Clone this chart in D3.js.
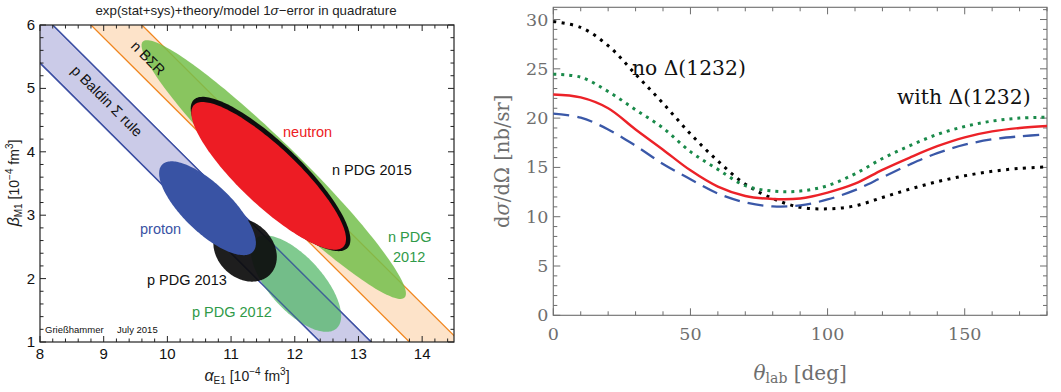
<!DOCTYPE html>
<html><head><meta charset="utf-8">
<script src="https://cdn.jsdelivr.net/npm/d3@7"></script>
<style>body{margin:0;background:#fff} svg{display:block}</style>
</head><body>
<svg id="c" width="1061" height="392"></svg>
<script>
// ---------------- RIGHT PANEL DATA ----------------
const thetaDeg    = [0,10,20,30,40,50,60,70,80,90,100,110,120,130,140,150,160,170,180];
const redSolid    = [22.4,22.1,21.0,18.85,16.8,14.7,13.05,12.1,11.8,11.85,12.45,13.35,14.75,16.0,17.15,18.05,18.65,19.0,19.2];
const greenDotted = [24.45,24.15,22.7,20.85,19.0,16.6,14.8,13.15,12.6,12.6,13.15,14.35,15.9,17.2,18.35,19.15,19.7,20.0,20.1];
const blueDashed  = [20.45,20.05,18.85,17.2,15.35,13.8,12.35,11.45,11.05,11.15,11.75,12.7,14.0,15.3,16.45,17.3,17.85,18.15,18.35];
const blackDotted = [29.8,29.2,27.35,24.45,21.5,18.4,15.65,13.3,11.85,10.95,10.8,11.1,11.95,12.8,13.55,14.15,14.6,14.9,15.05];
const xTicksRight = [0,50,100,150];
const yTicksRight = [0,5,10,15,20,25,30];

// ---------------- LEFT PANEL DATA ----------------
const alphaTicks = [8,9,10,11,12,13,14];
const betaTicks  = [1,2,3,4,5,6];
// sum rule bands: alpha+beta = centre +- half width
const bandNames     = ["p Baldin Σ rule","n BΣR"];
const bandSum       = [13.8, 15.2];
const bandHalfWidth = [0.4, 0.4];
// error ellipses (alpha, beta centre; semi-axes; orientation in degrees)
const ellipseNames = ["n PDG 2012","p PDG 2012","n PDG 2015","neutron","p PDG 2013","proton"];
const ellipseAlpha = [11.67, 12.02, 11.62, 11.59, 11.22, 10.63];
const ellipseBeta  = [3.72, 1.92, 3.65, 3.62, 2.45, 3.11];
const ellipseMajor = [2.88, 0.95, 1.68, 1.62, 0.55, 0.99];
const ellipseMinor = [0.42, 0.42, 0.48, 0.455, 0.44, 0.38];
const ellipseAngle = [-44.5, -48, -44, -43.6, -45, -44];

// ---------------- STYLES ----------------
const svg = d3.select("#c");
const SANS = "'Liberation Sans', Arial, sans-serif";
const SERIF = "'DejaVu Serif', serif";

// ================= LEFT PANEL =================
const xL = d3.scaleLinear().domain([8,14.5]).range([40,454]);
const yL = d3.scaleLinear().domain([1,6]).range([342,25]);
const L = svg.append("g");
L.append("clipPath").attr("id","clipL").append("rect")
  .attr("x",xL(8)).attr("y",yL(6)).attr("width",xL(14.5)-xL(8)).attr("height",yL(1)-yL(6));
const plotL = L.append("g").attr("clip-path","url(#clipL)");

const bandFill = ["#cbcbe8","#fde3c9"];
const bandLine = ["#3c4fa3","#f0861f"];
bandSum.forEach((s,i)=>{
  const s1 = s - bandHalfWidth[i], s2 = s + bandHalfWidth[i];
  const pts = [[6,s1-6],[16,s1-16],[16,s2-16],[6,s2-6]].map(p=>[xL(p[0]),yL(p[1])]);
  plotL.append("path").attr("d", d3.line()(pts)+"Z").attr("fill",bandFill[i]);
});
function bandLines(i, op){
  const s = bandSum[i];
  [s-bandHalfWidth[i], s+bandHalfWidth[i]].forEach(S=>{
    plotL.append("line").attr("x1",xL(6)).attr("y1",yL(S-6)).attr("x2",xL(16)).attr("y2",yL(S-16))
      .attr("stroke",bandLine[i]).attr("stroke-width",1.3).attr("stroke-opacity",op);
  });
}
bandLines(0,1); bandLines(1,1);

function ellipsePath(i){
  const phi = ellipseAngle[i]*Math.PI/180;
  const pts = d3.range(0, 2*Math.PI, Math.PI/90).map(t=>{
    const a = ellipseAlpha[i] + ellipseMajor[i]*Math.cos(t)*Math.cos(phi) - ellipseMinor[i]*Math.sin(t)*Math.sin(phi);
    const b = ellipseBeta[i]  + ellipseMajor[i]*Math.cos(t)*Math.sin(phi) + ellipseMinor[i]*Math.sin(t)*Math.cos(phi);
    return [xL(a), yL(b)];
  });
  return d3.line().curve(d3.curveLinearClosed)(pts);
}
const ellFill    = ["#74bf4c","#55b86a","#0d0d0d","#ed1c24","#0d0d0d","#3953a4"];
const ellOpacity = [0.85, 0.75, 1, 1, 0.93, 1];
ellipseNames.forEach((n,i)=>{
  plotL.append("path").attr("d", ellipsePath(i)).attr("fill",ellFill[i]).attr("fill-opacity",ellOpacity[i]);
  if(i===1) bandLines(0,0.8);   // Baldin edges show through the proton PDG 2012 region
});

// frame + ticks
L.append("rect").attr("x",xL(8)).attr("y",yL(6)).attr("width",xL(14.5)-xL(8)).attr("height",yL(1)-yL(6))
  .attr("fill","none").attr("stroke","#222").attr("stroke-width",1.2);
const tk = L.append("g").attr("stroke","#222").attr("stroke-width",1);
d3.range(8, 14.5001, 0.2).forEach(v=>{
  const major = Math.abs(v-Math.round(v))<1e-6; const len = major?6:3.5;
  tk.append("line").attr("x1",xL(v)).attr("x2",xL(v)).attr("y1",yL(1)).attr("y2",yL(1)-len);
  tk.append("line").attr("x1",xL(v)).attr("x2",xL(v)).attr("y1",yL(6)).attr("y2",yL(6)+len);
});
d3.range(1, 6.0001, 0.2).forEach(v=>{
  const major = Math.abs(v-Math.round(v))<1e-6; const len = major?6:3.5;
  tk.append("line").attr("y1",yL(v)).attr("y2",yL(v)).attr("x1",xL(8)).attr("x2",xL(8)+len);
  tk.append("line").attr("y1",yL(v)).attr("y2",yL(v)).attr("x1",xL(14.5)).attr("x2",xL(14.5)-len);
});
alphaTicks.forEach(v=>{
  L.append("text").attr("x",xL(v)).attr("y",yL(1)+17).attr("text-anchor","middle")
   .attr("font-family",SANS).attr("font-size",15).attr("fill","#111").text(v);
});
betaTicks.forEach(v=>{
  L.append("text").attr("x",xL(8)-5).attr("y",yL(v)+5).attr("text-anchor","end")
   .attr("font-family",SANS).attr("font-size",15).attr("fill","#111").text(v);
});
// title
L.append("text").attr("x",246).attr("y",15).attr("text-anchor","middle").attr("font-family",SANS)
 .attr("font-size",13.3).attr("fill","#222")
 .html("exp(stat+sys)+theory/model 1<tspan font-style='italic'>σ</tspan>−error in quadrature");
// axis labels
const xlab = L.append("text").attr("x",247).attr("y",381).attr("text-anchor","middle").attr("font-family",SANS).attr("font-size",14).attr("fill","#222");
xlab.html("<tspan font-style='italic' font-size='16'>α</tspan><tspan font-size='10' dy='3'>E1</tspan><tspan dy='-3'> [10</tspan><tspan font-size='10' dy='-6'>−4</tspan><tspan dy='6'> fm</tspan><tspan font-size='10' dy='-6'>3</tspan><tspan dy='6'>]</tspan>");
const ylab = L.append("text").attr("transform","translate(19,183) rotate(-90)").attr("text-anchor","middle").attr("font-family",SANS).attr("font-size",14).attr("fill","#222");
ylab.html("<tspan font-style='italic' font-size='16'>β</tspan><tspan font-size='10' dy='3'>M1</tspan><tspan dy='-3'> [10</tspan><tspan font-size='10' dy='-6'>−4</tspan><tspan dy='6'> fm</tspan><tspan font-size='10' dy='-6'>3</tspan><tspan dy='6'>]</tspan>");

// panel labels
function lab(txt,x,y,col,size,rot){
  const t = L.append("text").attr("font-family",SANS).attr("font-size",size).attr("fill",col).text(txt);
  if(rot){ t.attr("transform",`translate(${x},${y}) rotate(${rot})`).attr("text-anchor","middle").attr("dominant-baseline","central"); }
  else { t.attr("x",x).attr("y",y); }
  return t;
}
lab(bandNames[0],107,101,"#111",14.5,45);
lab(bandNames[1],148,58,"#111",14.5,45);
lab(ellipseNames[3],283,137,"#ed1c24",14.5);
lab(ellipseNames[2],332,175,"#111",14.5);
lab(ellipseNames[5],140,234,"#3953a4",14.5);
lab(ellipseNames[4],147,285,"#111",14.5);
lab(ellipseNames[1],192,317,"#2f9a48",14.5);
lab("n PDG",388,242,"#2f9a48",14.5);
lab("2012",393,262,"#2f9a48",14.5);
lab("Grießhammer",45,333,"#111",9.5);
lab("July 2015",117,333,"#111",9.5);

// ================= RIGHT PANEL =================
const xR = d3.scaleLinear().domain([0,180]).range([553.3,1047]);
const yR = d3.scaleLinear().domain([0,31.24]).range([315.3,7.3]);
const R = svg.append("g");
const AX = "#6e6e6e";
R.append("rect").attr("x",xR(0)).attr("y",yR(31.24)).attr("width",xR(180)-xR(0)).attr("height",yR(0)-yR(31.24))
 .attr("fill","none").attr("stroke",AX).attr("stroke-width",1.1);
const tr = R.append("g").attr("stroke",AX).attr("stroke-width",1);
d3.range(0,180.001,10).forEach(v=>{
  const len = (v%50===0)?7:4;
  tr.append("line").attr("x1",xR(v)).attr("x2",xR(v)).attr("y1",yR(0)).attr("y2",yR(0)-len);
  tr.append("line").attr("x1",xR(v)).attr("x2",xR(v)).attr("y1",yR(31.24)).attr("y2",yR(31.24)+len);
});
d3.range(0,31.001,1).forEach(v=>{
  const len = (v%5===0)?7:4;
  tr.append("line").attr("y1",yR(v)).attr("y2",yR(v)).attr("x1",xR(0)).attr("x2",xR(0)+len);
  tr.append("line").attr("y1",yR(v)).attr("y2",yR(v)).attr("x1",xR(180)).attr("x2",xR(180)-len);
});
xTicksRight.forEach(v=>{
  R.append("text").attr("x",xR(v)).attr("y",yR(0)+25).attr("text-anchor","middle")
   .attr("font-family",SERIF).attr("font-size",17.5).attr("fill",AX).text(v);
});
yTicksRight.forEach(v=>{
  R.append("text").attr("x",xR(0)-5).attr("y",yR(v)+6).attr("text-anchor","end")
   .attr("font-family",SERIF).attr("font-size",17.5).attr("fill",AX).text(v);
});
R.append("text").attr("x",(xR(0)+xR(180))/2).attr("y",380).attr("text-anchor","middle")
 .attr("font-family",SERIF).attr("font-size",20).attr("fill",AX)
 .html("<tspan font-style='italic'>θ</tspan><tspan font-size='14' dy='3'>lab</tspan><tspan dy='-3'> [deg]</tspan>");
R.append("text").attr("transform",`translate(509,${(yR(0)+yR(31.24))/2}) rotate(-90)`).attr("text-anchor","middle")
 .attr("font-family",SERIF).attr("font-size",19.5).attr("fill",AX)
 .html("d<tspan font-style='italic'>σ</tspan>/dΩ [nb/sr]");

const line = d3.line().x((d,i)=>xR(thetaDeg[i])).y(d=>yR(d)).curve(d3.curveCatmullRom.alpha(0.5));
R.append("path").attr("d",line(blackDotted)).attr("fill","none").attr("stroke","#000").attr("stroke-width",3).attr("stroke-dasharray","3,5.5");
R.append("path").attr("d",line(blueDashed)).attr("fill","none").attr("stroke","#3a58a8").attr("stroke-width",2.3).attr("stroke-dasharray","16,8");
R.append("path").attr("d",line(greenDotted)).attr("fill","none").attr("stroke","#1a8a4a").attr("stroke-width",3).attr("stroke-dasharray","3,5");
R.append("path").attr("d",line(redSolid)).attr("fill","none").attr("stroke","#ec2228").attr("stroke-width",2.4);

const noLab = R.append("text").attr("x",632).attr("y",75).attr("font-family",SERIF).attr("font-size",20.3).attr("fill","#111").text("no Δ(1232)");
const bb = noLab.node().getBBox();
R.insert("rect", "text").attr("x",bb.x-1).attr("y",bb.y).attr("width",bb.width+2).attr("height",bb.height).attr("fill","#fff");
noLab.raise();
R.append("text").attr("x",897).attr("y",104).attr("font-family",SERIF).attr("font-size",20.3).attr("fill","#111").text("with Δ(1232)");
</script>
</body></html>
